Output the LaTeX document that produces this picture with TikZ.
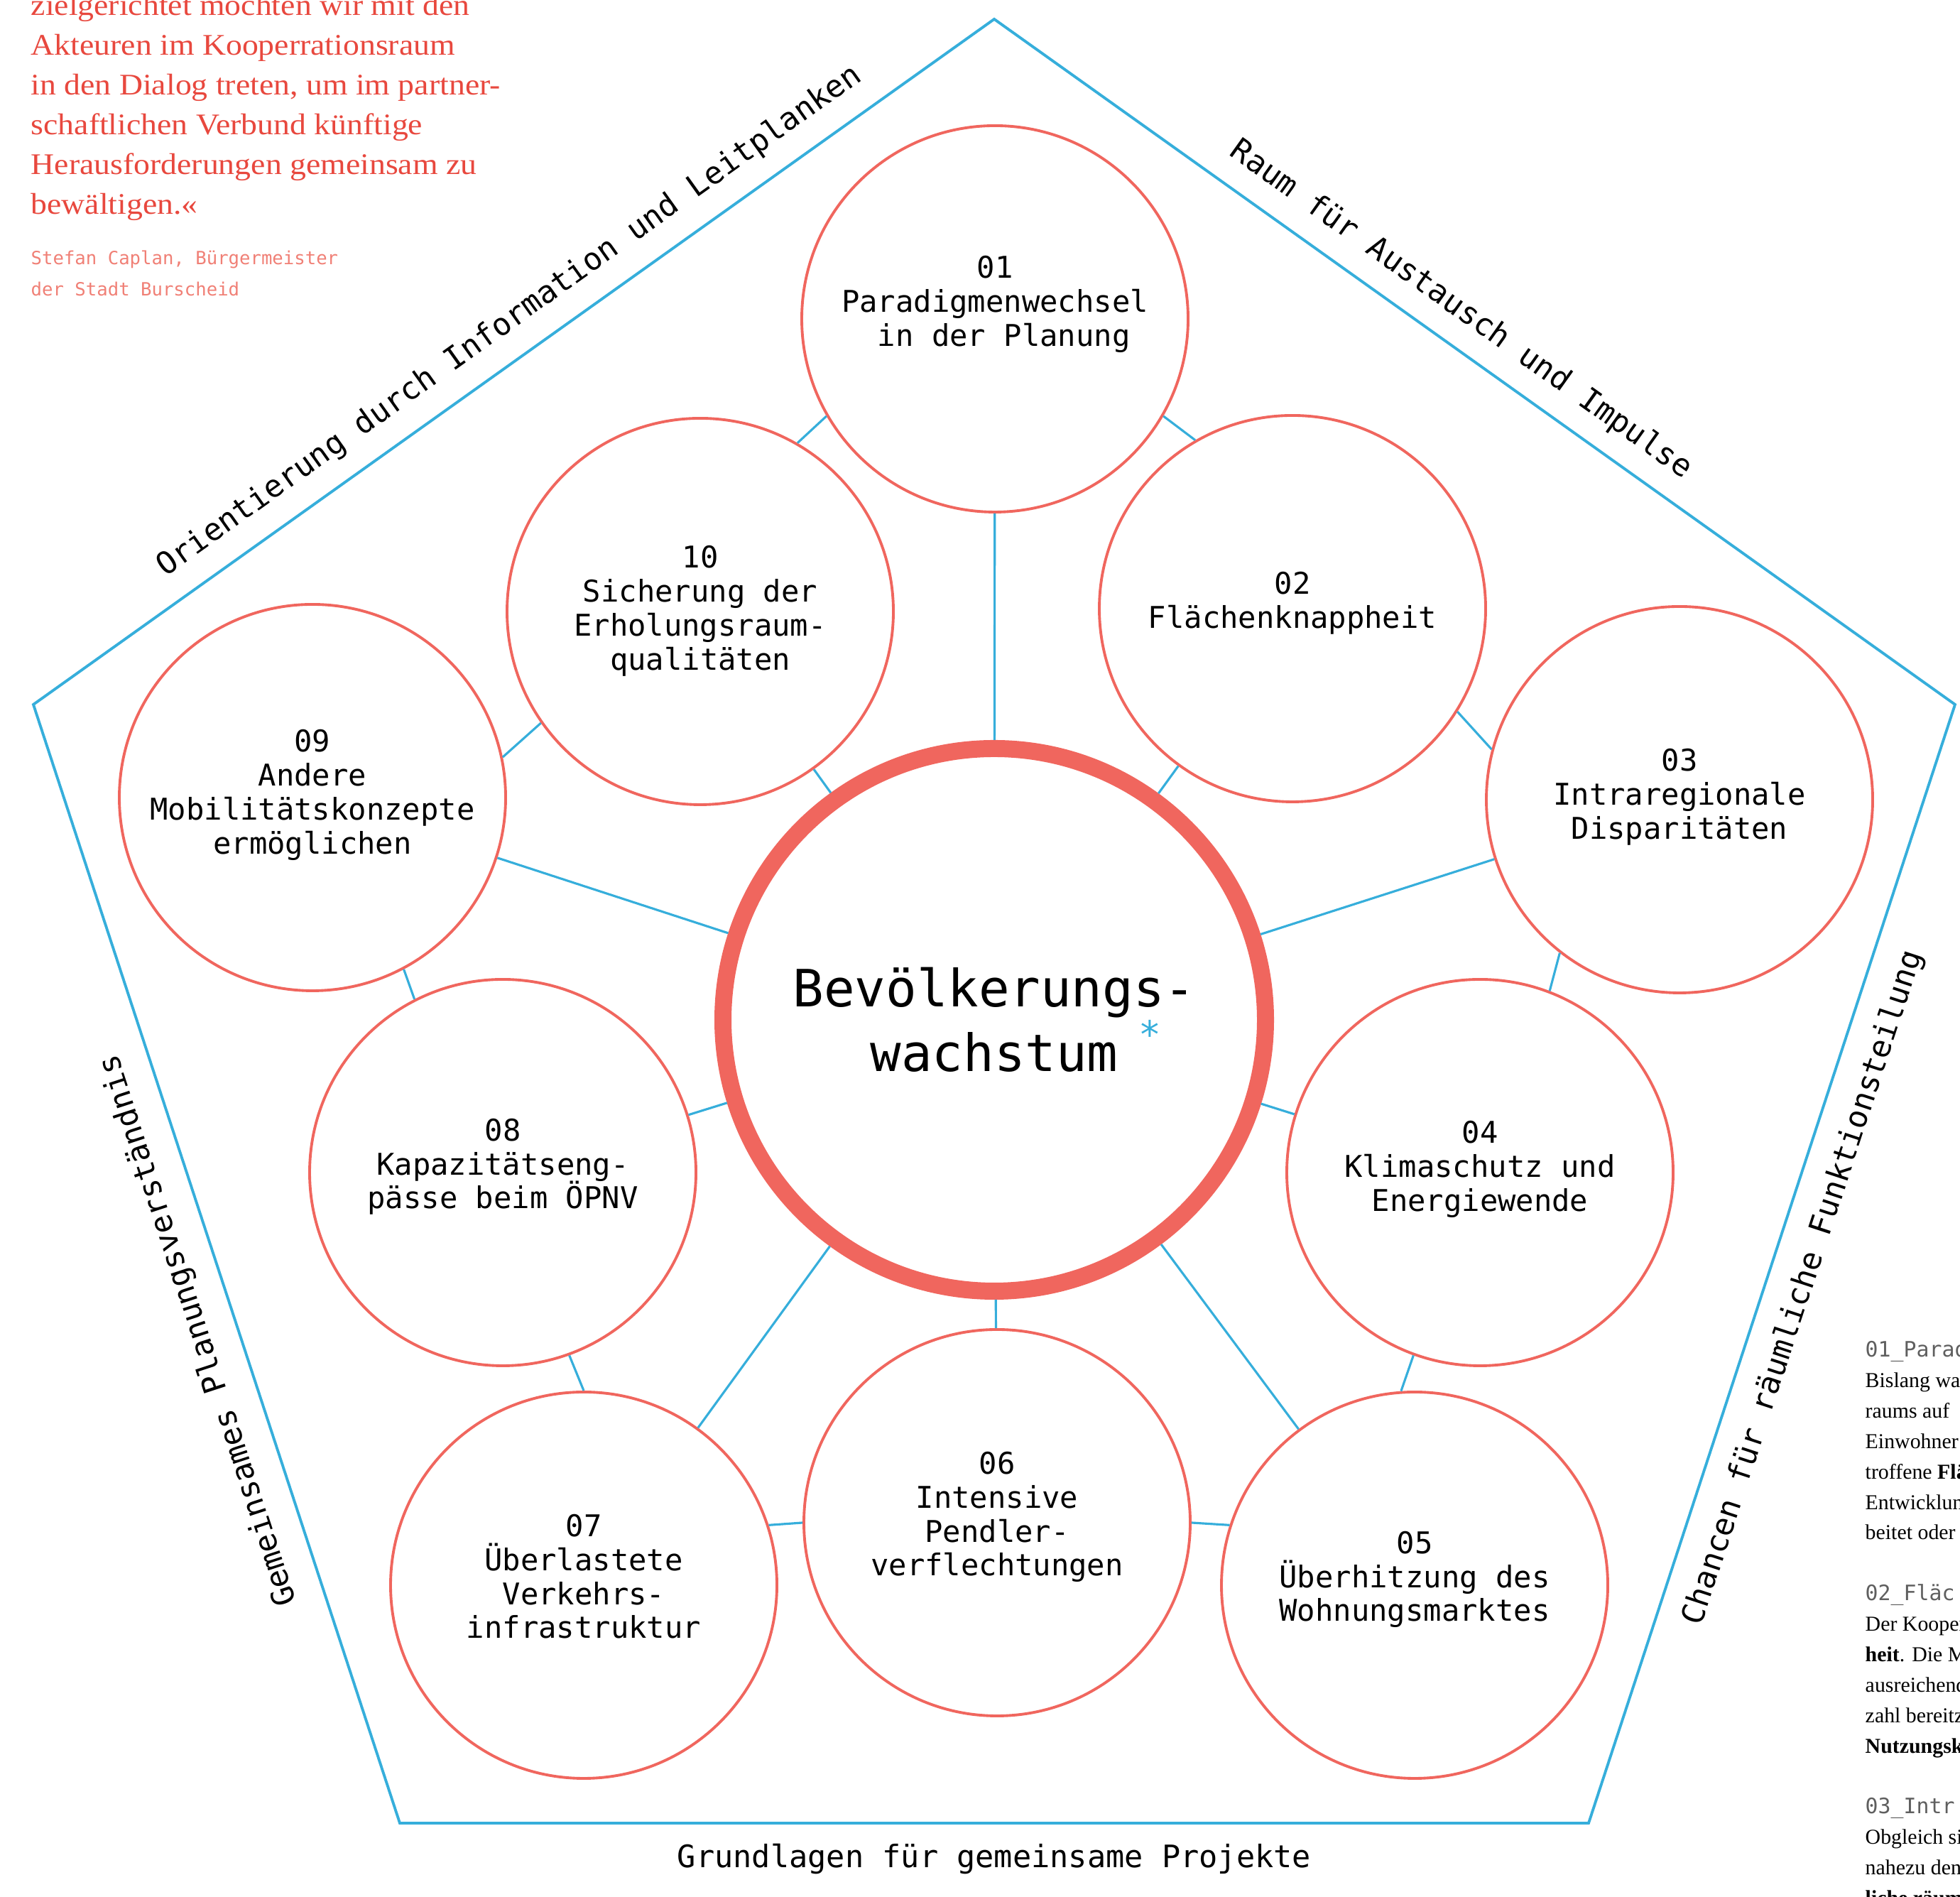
\documentclass[tikz,border=0pt]{standalone}
\usepackage{fontspec}
\setmainfont{Liberation Serif}
\setmonofont{DejaVu Sans Mono}
\newfontfamily\zitat[FakeStretch=1.085]{Liberation Serif}
\usetikzlibrary{positioning, calc}

\definecolor{blu}{RGB}{54,174,219}
\definecolor{rosso}{RGB}{240,102,94}
\definecolor{rossoq}{RGB}{232,72,62}
\definecolor{rossochiaro}{RGB}{240,128,118}
\definecolor{grigio}{RGB}{95,95,95}

\begin{document}
\begin{tikzpicture}[
	tema/.style={circle, draw=rosso, line width=1.1pt, minimum size=5.44cm, inner sep=0pt,
		align=center, text depth=0.25cm, font=\ttfamily\fontsize{12}{13.6}\selectfont},
	centrale/.style={circle, draw=rosso, line width=0.24cm, minimum size=7.64cm, inner sep=0pt,
		align=center, font=\ttfamily\fontsize{20.6}{23.6}\selectfont},
	lato/.style={draw=blu, line width=1.1pt, line join=miter},
	legame/.style={draw=blu, line width=0.9pt},
	etichetta/.style={font=\ttfamily\fontsize{12.4}{14}\selectfont, anchor=base, inner sep=0pt}
	]
	\useasboundingbox (0,0) rectangle (27.60,26.71);
	
	% Pentagono esterno
	\coordinate (pt) at (14.00,26.44);
	\coordinate (pr) at (27.53,16.79);
	\coordinate (pbr) at (22.37,1.04);
	\coordinate (pbl) at (5.63,1.04);
	\coordinate (pl) at (0.47,16.79);
	\draw[lato] (pt) -- (pr) -- (pbr) -- (pbl) -- (pl) -- cycle;
	
	% Nodo principale
	\node[centrale] (C) at (14.00,12.35) {Bevölkerungs-\\wachstum\rlap{\hspace{0.4em}\raisebox{0.45em}{\textcolor{blu}{\fontsize{15}{15}\selectfont*}}}};
	
	% Nodi tematici
	\node[tema, text depth=0.5cm] (C1) at (14.01,22.22) {01\\Paradigmenwechsel\\\hphantom{x}in der Planung};
	\node[tema] (C2) at (18.20,18.14) {02\\Flächenknappheit};
	\node[tema, text depth=0.16cm] (C3) at (23.65,15.45) {03\\Intraregionale\\Disparitäten};
	\node[tema, text depth=0.18cm] (C4) at (20.84,10.20) {04\\Klimaschutz und\\Energiewende};
	\node[tema] (C5) at (19.92,4.39) {05\\Überhitzung des\\Wohnungsmarktes};
	\node[tema] (C6) at (14.04,5.27) {06\\Intensive\\Pendler-\\verflechtungen};
	\node[tema] (C7) at (8.22,4.39) {07\\Überlastete\\Verkehrs-\\infrastruktur};
	\node[tema] (C8) at (7.08,10.20) {08\\Kapazitätseng-\\pässe beim ÖPNV};
	\node[tema, text depth=0.16cm] (C9) at (4.40,15.48) {09\\Andere\\Mobilitätskonzepte\\ermöglichen};
	\node[tema, text depth=0.1cm] (C10) at (9.86,18.10) {10\\Sicherung der\\Erholungsraum-\\qualitäten};
	
	% Linee verso il centro
	\draw[legame] (C1) -- (C);
	\draw[legame] (C2) -- (C);
	\draw[legame] (C3) -- (C);
	\draw[legame] (C4) -- (C);
	\draw[legame] (C5) -- (C);
	\draw[legame] (C6) -- (C);
	\draw[legame] (C7) -- (C);
	\draw[legame] (C8) -- (C);
	\draw[legame] (C9) -- (C);
	\draw[legame] (C10) -- (C);
	
	% Linee tra nodi vicini
	\draw[legame] (C1.-30) -- (C2.120);
	\draw[legame] (C2.-32) -- (C3.165);
	\draw[legame] (C3.-128) -- (C4.69);
	\draw[legame] (C4.-110) -- (C5.94);
	\draw[legame] (C6.0) -- (C5.162);
	\draw[legame] (C7.18) -- (C6.180);
	\draw[legame] (C8.-70) -- (C7.90);
	\draw[legame] (C9.-62) -- (C8.117);
	\draw[legame] (C10.-145) -- (C9.12);
	\draw[legame] (C1.-150) -- (C10.60);
	
	% Scritte sui lati
	\coordinate (mO) at ($(pl)!0.517!(pt)$);
	\coordinate (mR) at ($(pt)!0.465!(pr)$);
	\coordinate (mF) at ($(pr)!0.511!(pbr)$);
	\coordinate (mP) at ($(pbl)!0.5!(pbr)$);
	\coordinate (mG) at ($(pl)!0.549!(pbl)$);
	\node[etichetta, rotate=35.5] (LO) at ($(mO)!0.38cm!90:(pt)$) {Orientierung durch Information und Leitplanken};
	\node[etichetta, rotate=-35.5] (LR) at ($(mR)!0.36cm!90:(pr)$) {Raum für Austausch und Impulse};
	\node[etichetta, rotate=71.8] (LF) at ($(mF)!0.65cm!90:(pbr)$) {Chancen für räumliche Funktionsteilung};
	\node[etichetta] (LP) at ($(mP)!0.63cm!-90:(pbr)$) {Grundlagen für gemeinsame Projekte};
	\node[etichetta, rotate=108.1] (LG) at ($(mG)!0.41cm!-90:(pbl)$) {Gemeinsames Planungsverständnis};
	
	% Citazione
	\node[anchor=base west, inner sep=0pt, text=rossoq, font=\zitat\fontsize{12}{15.9}\selectfont] (Q) at (0.43,26.49)
	{\parbox[t]{9cm}{\raggedright zielgerichtet möchten wir mit den\\Akteuren im Kooperrationsraum\\in den Dialog treten, um im partner-\\schaftlichen Verbund künftige\\Herausforderungen gemeinsam zu\\bewältigen.«}};
	\node[anchor=base west, inner sep=0pt, text=rossochiaro, font=\ttfamily\fontsize{7.3}{12.5}\selectfont] (A) at (0.43,22.98)
	{\parbox[t]{6cm}{\raggedright Stefan Caplan, Bürgermeister\\der Stadt Burscheid}};
	
	% Testo a destra
	\node[anchor=base west, inner sep=0pt, font=\fontsize{8.5}{12.2}\selectfont] (T) at (26.26,7.83)
	{\parbox[t]{6cm}{\raggedright
		{\ttfamily\color{grigio}01\_Parad}\\Bislang war\\raums auf\\Einwohner\\troffene \textbf{Flä}\\Entwicklun\\beitet oder\\\mbox{}\\
		{\ttfamily\color{grigio}02\_Fläc}\\Der Kooper\\\textbf{heit}. Die M\\ausreichend\\zahl bereitz\\\textbf{Nutzungsk}\\\mbox{}\\
		{\ttfamily\color{grigio}03\_Intr}\\Obgleich si\\nahezu den\\\textbf{liche räum}}};
\end{tikzpicture}
\end{document}
